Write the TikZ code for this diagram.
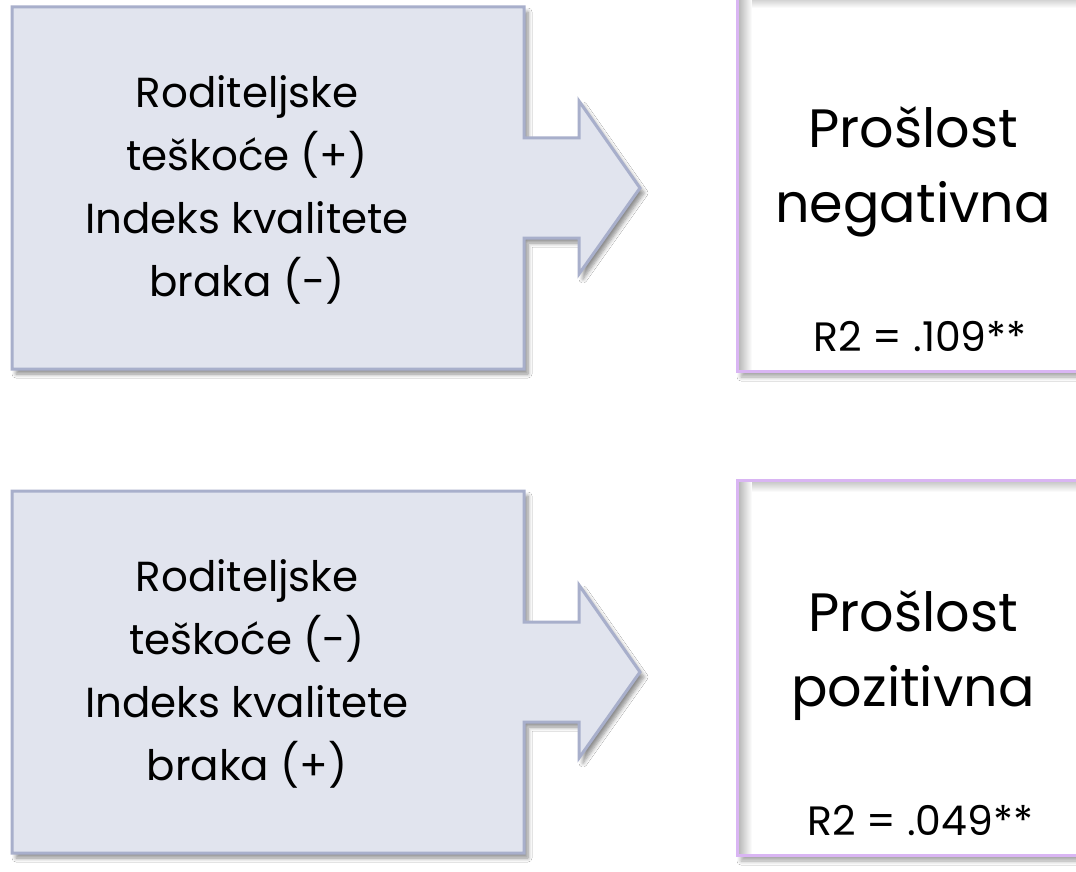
\documentclass[tikz,border=0pt]{standalone}
\usepackage{fontspec}
\setmainfont{Poppins}
\usetikzlibrary{shadows.blur}
\definecolor{cfill}{HTML}{E1E4EE}
\definecolor{cline}{HTML}{A8AFCB}
\definecolor{pline}{HTML}{D9B5F3}
\tikzset{
  callout/.style={fill=cfill, draw=cline, line width=3pt, line join=miter,
    blur shadow={shadow xshift=4pt, shadow yshift=-5pt, shadow blur steps=6, shadow blur radius=4pt, shadow opacity=45}},
  resbox/.style={fill=white, draw=pline, line width=3pt,
    blur shadow={shadow xshift=4pt, shadow yshift=-6pt, shadow blur steps=6, shadow blur radius=4pt, shadow opacity=35}},
  ltext/.style={anchor=base, align=center, font=\fontsize{42}{63}\selectfont, inner sep=0pt},
  rtitle/.style={anchor=base, align=center, font=\fontsize{54}{75}\selectfont, inner sep=0pt},
  rstat/.style={anchor=base, align=center, font=\fontsize{41}{45}\selectfont, inner sep=0pt}
}
\begin{document}
\begin{tikzpicture}[x=1pt,y=-1pt]
\useasboundingbox (0,0) rectangle (1076,872);
\fill[white] (0,0) rectangle (1076,872);
% right boxes
\foreach \dy in {0,484} {
  \path[resbox] (737,-4+\dy) rectangle (1095,371+\dy);
  \shade[left color=black!28, right color=white] (738.5,-2+\dy) rectangle (752,369.5+\dy);
  \shade[top color=black!22, bottom color=white] (752,-2.5+\dy) rectangle (1095,8+\dy);
  \draw[draw=pline, line width=3pt] (737,-4+\dy) rectangle (1095,371+\dy);
}
% callouts
\foreach \dy in {0,484} {
  \path[callout] (12,7+\dy) -- (524,7+\dy) -- (524,138+\dy) -- (579,138+\dy) -- (579,101+\dy)
    -- (640,188+\dy) -- (579,274+\dy) -- (579,238+\dy) -- (524,238+\dy) -- (524,369+\dy)
    -- (12,369+\dy) -- cycle;
}
\node[ltext] (a) at (247,296) {Roditeljske\\teškoće (+)\\Indeks kvalitete\\braka (-)};
\node[ltext] (b) at (247,780) {Roditeljske\\teškoće (-)\\Indeks kvalitete\\braka (+)};
\node[rtitle] (c) at (913,222) {Prošlost\\negativna};
\node[rstat] (d) at (920,351) {R2 = .109**};
\node[rtitle] (e) at (913,706) {Prošlost\\pozitivna};
\node[rstat] (f) at (920,835) {R2 = .049**};
\end{tikzpicture}
\end{document}
